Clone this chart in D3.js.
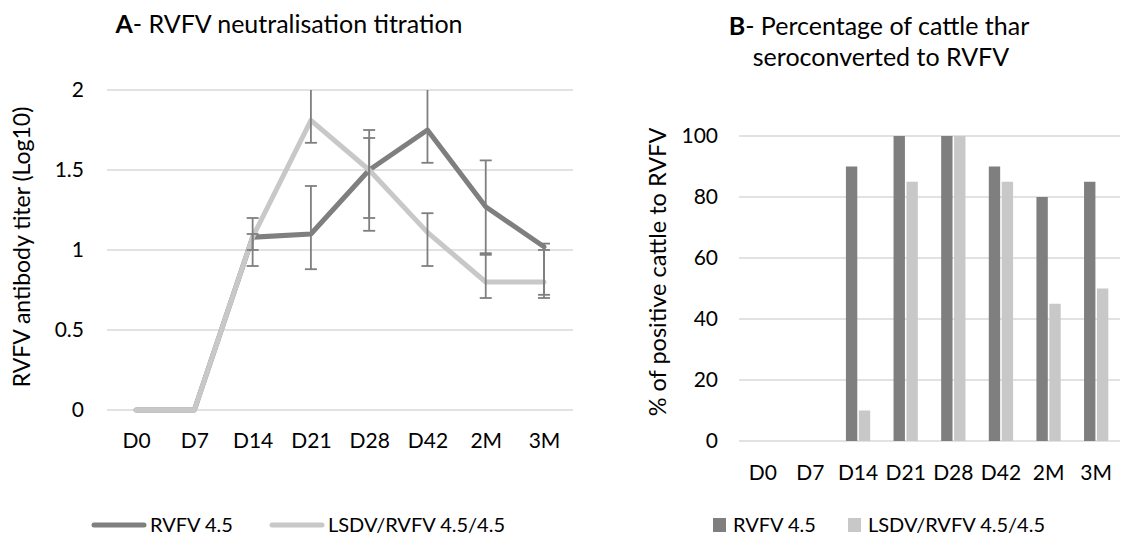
<!DOCTYPE html>
<html>
<head>
<meta charset="utf-8">
<script src="https://cdn.jsdelivr.net/npm/d3@7"></script>
<style>
  html, body { margin: 0; padding: 0; background: #fff; }
  svg { display: block; font-family: Lato, "Open Sans", sans-serif; }
</style>
</head>
<body>
<svg id="chart" width="1130" height="537"></svg>
<script>
// ---------- data ----------
const categories = ["D0", "D7", "D14", "D21", "D28", "D42", "2M", "3M"];
const seriesNames = ["RVFV 4.5", "LSDV/RVFV 4.5/4.5"];

// Panel A: neutralisation titre (log10)
const rvfvTiter = [0, 0, 1.08, 1.10, 1.50, 1.75, 1.27, 1.02];
const rvfvLow   = [null, null, 0.90, 0.88, 1.12, 1.545, 0.98, 0.72];
const rvfvHigh  = [null, null, 1.20, 1.40, 1.75, 2.10, 1.56, 1.04];
const lsdvTiter = [0, 0, 1.08, 1.81, 1.50, 1.11, 0.80, 0.80];
const lsdvLow   = [null, null, 1.00, 1.67, 1.20, 0.90, 0.70, 0.70];
const lsdvHigh  = [null, null, 1.10, 2.10, 1.70, 1.23, 0.97, 1.00];
const titerTicks = [0, 0.5, 1, 1.5, 2];

// Panel B: % positive
const rvfvPct = [0, 0, 90, 100, 100, 90, 80, 85];
const lsdvPct = [0, 0, 10, 85, 100, 85, 45, 50];
const pctTicks = [0, 20, 40, 60, 80, 100];

// ---------- style ----------
const DARK = "#7f7f7f";
const LIGHT = "#c8c8c8";
const GRID = "#d9d9d9";
const ERR = "#7f7f7f";
const TXT = "#000";
const TICK_FS = 21;

const svg = d3.select("#chart");

// ================= Panel A =================
const xA = d3.scalePoint().domain(categories).range([136.1, 544]);
const yA = d3.scaleLinear().domain([0, 2]).range([410, 90]);
const A_LEFT = 107, A_RIGHT = 573;

const gA = svg.append("g");
gA.append("g").selectAll("line").data(titerTicks).join("line")
  .attr("x1", A_LEFT).attr("x2", A_RIGHT)
  .attr("y1", d => yA(d)).attr("y2", d => yA(d))
  .attr("stroke", GRID).attr("stroke-width", 1.3);

const yAxisA = d3.axisLeft(yA).tickValues(titerTicks).tickSize(0).tickPadding(0)
  .tickFormat(d => String(d));
const yaG = gA.append("g").attr("transform", `translate(84,0)`).call(yAxisA);
yaG.select(".domain").remove();
yaG.selectAll("text").attr("font-size", TICK_FS).attr("fill", TXT)
  .attr("font-family", "Lato, sans-serif");

const xAxisA = d3.axisBottom(xA).tickSize(0).tickPadding(0);
const xaG = gA.append("g").attr("transform", `translate(0,433)`).call(xAxisA);
xaG.select(".domain").remove();
xaG.selectAll("text").attr("font-size", TICK_FS).attr("fill", TXT)
  .attr("font-family", "Lato, sans-serif").attr("dy", "0.71em");

const line = d3.line().x((d, i) => xA(categories[i])).y(d => yA(d));
gA.append("path").datum(rvfvTiter).attr("d", line)
  .attr("fill", "none").attr("stroke", DARK).attr("stroke-width", 5)
  .attr("stroke-linejoin", "round").attr("stroke-linecap", "round");
gA.append("path").datum(lsdvTiter).attr("d", line)
  .attr("fill", "none").attr("stroke", LIGHT).attr("stroke-width", 5)
  .attr("stroke-linejoin", "round").attr("stroke-linecap", "round");

function errBars(lows, highs) {
  const data = categories.map((c, i) => ({ c, lo: lows[i], hi: highs[i] }))
    .filter(d => d.lo !== null);
  const g = gA.append("g");
  const maxV = yA.domain()[1];
  data.forEach(d => {
    const x = xA(d.c);
    const hiC = Math.min(d.hi, maxV);
    g.append("line").attr("x1", x).attr("x2", x)
      .attr("y1", yA(d.lo)).attr("y2", yA(hiC))
      .attr("stroke", ERR).attr("stroke-width", 1.8);
    g.append("line").attr("x1", x - 6).attr("x2", x + 6)
      .attr("y1", yA(d.lo)).attr("y2", yA(d.lo))
      .attr("stroke", ERR).attr("stroke-width", 1.8);
    if (d.hi <= maxV) {
      g.append("line").attr("x1", x - 6).attr("x2", x + 6)
        .attr("y1", yA(d.hi)).attr("y2", yA(d.hi))
        .attr("stroke", ERR).attr("stroke-width", 1.8);
    }
  });
}
errBars(rvfvLow, rvfvHigh);
errBars(lsdvLow, lsdvHigh);

const tA = svg.append("text").attr("x", 289).attr("y", 33).attr("text-anchor", "middle")
  .attr("font-size", 25).attr("fill", TXT);
tA.append("tspan").attr("font-weight", "bold").text("A");
tA.append("tspan").text("- RVFV neutralisation titration");

svg.append("text").attr("transform", "translate(30,247) rotate(-90)")
  .attr("text-anchor", "middle").attr("font-size", 23).attr("fill", TXT)
  .text("RVFV antibody titer (Log10)");

const legA = [
  { name: seriesNames[0], color: DARK, x: 92 },
  { name: seriesNames[1], color: LIGHT, x: 270 }
];
legA.forEach(d => {
  svg.append("line").attr("x1", d.x + 2).attr("x2", d.x + 52)
    .attr("y1", 525).attr("y2", 525).attr("stroke", d.color)
    .attr("stroke-width", 5).attr("stroke-linecap", "round");
  svg.append("text").attr("x", d.x + 58).attr("y", 532).attr("font-size", 20)
    .attr("fill", TXT).text(d.name);
});

// ================= Panel B =================
const B_LEFT = 739, B_RIGHT = 1120;
const xB = d3.scaleBand().domain(categories).range([B_LEFT, B_RIGHT]).paddingInner(0.49).paddingOuter(0.245);
const xB1 = d3.scaleBand().domain([0, 1]).range([0, xB.bandwidth()]).paddingInner(0.12);
const yB = d3.scaleLinear().domain([0, 100]).range([441, 136]);

const gB = svg.append("g");
gB.append("g").selectAll("line").data(pctTicks).join("line")
  .attr("x1", B_LEFT).attr("x2", B_RIGHT)
  .attr("y1", d => yB(d)).attr("y2", d => yB(d))
  .attr("stroke", GRID).attr("stroke-width", 1.3);

const yAxisB = d3.axisLeft(yB).tickValues(pctTicks).tickSize(0).tickPadding(0);
const ybG = gB.append("g").attr("transform", `translate(718,0)`).call(yAxisB);
ybG.select(".domain").remove();
ybG.selectAll("text").attr("font-size", TICK_FS).attr("fill", TXT)
  .attr("font-family", "Lato, sans-serif");

const xAxisB = d3.axisBottom(xB).tickSize(0).tickPadding(0);
const xbG = gB.append("g").attr("transform", `translate(0,465)`).call(xAxisB);
xbG.select(".domain").remove();
xbG.selectAll("text").attr("font-size", TICK_FS).attr("fill", TXT)
  .attr("font-family", "Lato, sans-serif").attr("dy", "0.71em");

const barData = [];
categories.forEach((c, i) => {
  barData.push({ c, s: 0, v: rvfvPct[i], color: DARK });
  barData.push({ c, s: 1, v: lsdvPct[i], color: LIGHT });
});
gB.append("g").selectAll("rect").data(barData.filter(d => d.v > 0)).join("rect")
  .attr("x", d => xB(d.c) + xB1(d.s))
  .attr("width", xB1.bandwidth())
  .attr("y", d => yB(d.v))
  .attr("height", d => yB(0) - yB(d.v))
  .attr("fill", d => d.color);

const tB1 = svg.append("text").attr("x", 879).attr("y", 35).attr("text-anchor", "middle")
  .attr("font-size", 25).attr("fill", TXT);
tB1.append("tspan").attr("font-weight", "bold").text("B");
tB1.append("tspan").text("- Percentage of cattle thar");
svg.append("text").attr("x", 881).attr("y", 66).attr("text-anchor", "middle")
  .attr("font-size", 25).attr("fill", TXT).text("seroconverted to RVFV");

svg.append("text").attr("transform", "translate(666,272) rotate(-90)")
  .attr("text-anchor", "middle").attr("font-size", 23.5).attr("fill", TXT)
  .text("% of positive cattle to RVFV");

const legB = [
  { name: seriesNames[0], color: DARK, x: 713 },
  { name: seriesNames[1], color: LIGHT, x: 848 }
];
legB.forEach(d => {
  svg.append("rect").attr("x", d.x).attr("y", 518).attr("width", 13).attr("height", 14)
    .attr("fill", d.color);
  svg.append("text").attr("x", d.x + 20).attr("y", 532).attr("font-size", 20)
    .attr("fill", TXT).text(d.name);
});
</script>
</body>
</html>
